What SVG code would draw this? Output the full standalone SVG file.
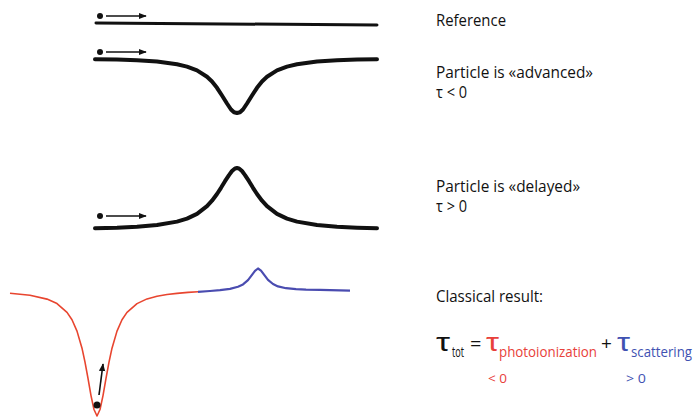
<svg xmlns="http://www.w3.org/2000/svg" width="693" height="419" viewBox="0 0 693 419">
<style>
text{font-family:"Open Sans","Liberation Sans",sans-serif;fill:#111}
.lbl{font-size:16px}
.tau{font-family:"Liberation Sans","Noto Sans",sans-serif;font-size:25px}
.crv{fill:none;stroke:#111;stroke-linejoin:round;stroke-linecap:round}
.arr{stroke:#111;stroke-width:1.6;fill:none}
.red{fill:#e8413a}
.blue{fill:#3f52b2}
</style>
<defs>
<marker id="ah" viewBox="0 0 10 10" refX="9" refY="5" markerWidth="5" markerHeight="5" markerUnits="strokeWidth" orient="auto">
<path d="M0,1 L10,5 L0,9 z" fill="#111"/>
</marker>
</defs>
<g id="reference-curve">
<path class="crv" stroke-width="3" d="M96,23 L377,25"/>
<circle cx="100" cy="16" r="3" fill="#111"/>
<line class="arr" x1="106" y1="16" x2="146" y2="16" marker-end="url(#ah)"/>
</g>
<g id="advanced-curve">
<path class="crv" stroke-width="4" d="M95,59.2 L117,59.6 L137,60.3 L157,61.5 L177,64.3 L187,66.6 L197,70.4 L207,76.8 L212,81.5 L217,87.8 L222,95.5 L227,103.5 L231,109.5 L234,112.3 L237,113 L240,112.3 L243,109.5 L247,103.5 L252,95.5 L257,87.8 L262,81.5 L267,76.8 L277,70.4 L287,66.6 L297,64.3 L317,61.5 L337,60.3 L357,59.6 L377,59.2"/>
<circle cx="100" cy="52" r="3" fill="#111"/>
<line class="arr" x1="106" y1="52" x2="146" y2="52" marker-end="url(#ah)"/>
</g>
<g id="delayed-curve">
<path class="crv" stroke-width="4" d="M95,228.3 L117,227.7 L137,226.7 L157,225 L177,221.6 L187,218.6 L197,213.9 L207,206.2 L212,200.7 L217,194 L221,187.8 L225,181.2 L229,175.1 L232,171 L235,168.4 L237,168 L239,168.4 L242,171 L245,175.1 L249,181.2 L253,187.8 L257,194 L262,200.7 L267,206.2 L277,213.9 L287,218.6 L297,221.6 L317,225 L337,226.7 L357,227.7 L377,228.3"/>
<circle cx="100" cy="216" r="3" fill="#111"/>
<line class="arr" x1="106" y1="216" x2="146" y2="216" marker-end="url(#ah)"/>
</g>
<g id="classical-curve">
<path fill="none" stroke="#e8452f" stroke-width="1.6" stroke-linejoin="round" d="M10,293.2 L30,295.2 L47,299.1 L57,303.6 L67,312.4 L72,319.8 L77,331.1 L82,348.2 L85,362.1 L88,378.4 L91,395.6 L94,409.5 L97,416 L100,409.5 L103,395.6 L106,378.4 L109,362.1 L112,348.2 L117,331.1 L122,319.8 L127,312.4 L137,303.6 L147,298.9 L157,296.3 L167,294.5 L177,293.4 L188,292.4 L198,291.8"/>
<path fill="none" stroke="#4a4cb0" stroke-width="2.2" stroke-linejoin="round" d="M198,291.8 L210,291 L220,290.2 L230,288.9 L238,286.8 L243,284.4 L248,280.1 L252,274.8 L255,270.8 L258,268.5 L261,270.7 L264,274.7 L268,279.9 L273,284 L278,286.4 L286,288.2 L296,289.2 L306,289.7 L320,289.9 L350,290.6"/>
<circle cx="97" cy="405" r="3.5" fill="#111"/>
<line class="arr" x1="99" y1="395" x2="103" y2="364" marker-end="url(#ah)"/>
</g>
<g id="labels">
<text class="lbl" x="436" y="26" textLength="70" lengthAdjust="spacingAndGlyphs">Reference</text>
<text class="lbl" x="436" y="78" textLength="157" lengthAdjust="spacingAndGlyphs">Particle is «advanced»</text>
<text class="lbl" x="436" y="98" textLength="31" lengthAdjust="spacingAndGlyphs">τ &lt; 0</text>
<text class="lbl" x="436" y="192" textLength="144" lengthAdjust="spacingAndGlyphs">Particle is «delayed»</text>
<text class="lbl" x="436" y="212" textLength="31" lengthAdjust="spacingAndGlyphs">τ &gt; 0</text>
<text class="lbl" x="436" y="302" textLength="107" lengthAdjust="spacingAndGlyphs">Classical result:</text>
</g>
<g id="formula">
<text class="tau" x="436" y="351" textLength="14" lengthAdjust="spacingAndGlyphs">τ</text>
<text x="452" y="357" font-size="15" textLength="12" lengthAdjust="spacingAndGlyphs">tot</text>
<text x="470" y="351" font-size="20">=</text>
<text class="tau red" x="486" y="351" textLength="13" lengthAdjust="spacingAndGlyphs">τ</text>
<text class="red" x="499" y="357" font-size="15" textLength="98" lengthAdjust="spacingAndGlyphs">photoionization</text>
<text x="601" y="350" font-size="19">+</text>
<text class="tau blue" x="617" y="351" textLength="13" lengthAdjust="spacingAndGlyphs">τ</text>
<text class="blue" x="631" y="357" font-size="15" textLength="61" lengthAdjust="spacingAndGlyphs">scattering</text>
<text class="red" x="488" y="383" font-size="13" textLength="19" lengthAdjust="spacingAndGlyphs">&lt; 0</text>
<text class="blue" x="626" y="383" font-size="13" textLength="20" lengthAdjust="spacingAndGlyphs">&gt; 0</text>
</g>
</svg>
